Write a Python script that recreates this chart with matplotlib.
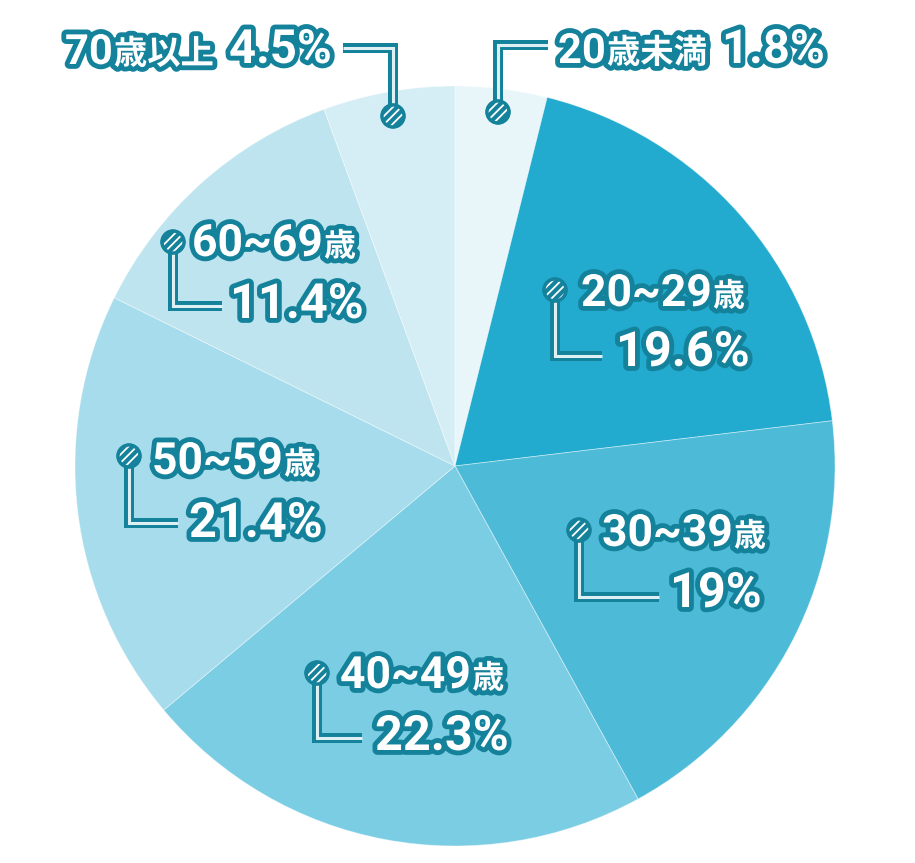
import re
import matplotlib
matplotlib.use('Agg')
import matplotlib.pyplot as plt
import matplotlib.patheffects as pe
from matplotlib.patches import Circle

plt.rcParams['hatch.linewidth'] = 1.3

# ---- data ----
age_groups = ['20歳未満', '20~29歳', '30~39歳', '40~49歳', '50~59歳', '60~69歳', '70歳以上']
pct_labels = ['1.8%', '19.6%', '19%', '22.3%', '21.4%', '11.4%', '4.5%']
# slice sizes as drawn in the picture (%)
slice_share = [3.9, 19.2, 18.9, 21.9, 18.4, 12.1, 5.6]
slice_colors = ['#e8f6fa', '#22aacf', '#4dbbd8', '#7bcde3', '#a6dceb', '#bee5ef', '#d5eef5']

TEAL = '#14829b'
STRIPE = '#dff0f5'
W, H = 915, 863

fig = plt.figure(figsize=(W / 100, H / 100), dpi=100)
ax = fig.add_axes([0, 0, 1, 1])
ax.pie(slice_share, colors=slice_colors, startangle=90, counterclock=False,
       center=(455, H - 466), radius=380, frame=True,
       wedgeprops=dict(linewidth=0.6, edgecolor=(1, 1, 1, 0.45)))
ax.set_xlim(0, W)
ax.set_ylim(0, H)
ax.set_aspect('equal')
ax.axis('off')

renderer = fig.canvas.get_renderer()
stroke = [pe.withStroke(linewidth=7, foreground=TEAL, capstyle='round', joinstyle='round')]
NUM_FONT = ['Roboto', 'Noto Sans CJK JP']
CJK_FONT = ['Noto Sans CJK JP', 'DejaVu Sans']


def draw_parts(x, y_img, parts):
    y = H - y_img
    for s, size, fam in parts:
        t = ax.text(x, y, s, fontsize=size, family=fam, weight='bold', color='white',
                    ha='left', va='baseline', path_effects=stroke, zorder=5)
        bb = t.get_window_extent(renderer)
        x = bb.x1 + 1


def split_age(label, num_size, cjk_size):
    parts = []
    for run in re.findall(r'[0-9~]+|[^0-9~]+', label):
        if re.match(r'[0-9~]', run):
            parts.append((run, num_size, NUM_FONT))
        else:
            parts.append((run, cjk_size, CJK_FONT))
    return parts


def leader(pts, circ):
    xs = [p[0] for p in pts]
    ys = [H - p[1] for p in pts]
    ax.plot(xs, ys, color=TEAL, lw=7.2, solid_joinstyle='miter', solid_capstyle='butt', zorder=3)
    ax.plot(xs, ys, color=STRIPE, lw=2.2, solid_joinstyle='miter', solid_capstyle='butt', zorder=3.1)
    cx, cy = circ[0], H - circ[1]
    ax.add_patch(Circle((cx, cy), 12.5, facecolor=TEAL, edgecolor='none', zorder=4))
    ax.add_patch(Circle((cx, cy), 10, facecolor='none', edgecolor='white', hatch='////', lw=0, zorder=4.1))
    ax.add_patch(Circle((cx, cy), 11, facecolor='none', edgecolor=TEAL, lw=2.4, zorder=4.2))


# layout: (age x, age baseline, pct x, pct baseline, leader points, circle centre)
layout = [
    (558, 63, 722, 63, [(498, 112), (498, 45), (548, 45)], (498, 112)),
    (581, 306, 616, 366, [(555, 290), (555, 356), (602, 356)], (555, 290)),
    (602, 546, 670, 607, [(579, 530), (579, 597), (659, 597)], (579, 530)),
    (340, 688, 375, 750, [(317, 673), (317, 738), (362, 738)], (317, 673)),
    (152, 474, 189, 537, [(129, 456), (129, 523), (178, 523)], (129, 456)),
    (192, 256, 230, 318, [(173, 242), (173, 306), (222, 306)], (173, 242)),
    (65, 64, 229, 63, [(343, 48), (393, 48), (393, 116)], (393, 116)),
]

for i, (age, pct) in enumerate(zip(age_groups, pct_labels)):
    ax_, ay_, px_, py_, pts, circ = layout[i]
    top = i in (0, 6)
    if top:
        draw_parts(ax_, ay_, split_age(age, 30, 24))
        draw_parts(px_, py_, [(pct, 34, NUM_FONT)])
    else:
        draw_parts(ax_, ay_, split_age(age, 32, 23))
        draw_parts(px_, py_, [(pct, 35, NUM_FONT)])
    leader(pts, circ)

fig.savefig('out.png', dpi=100)
